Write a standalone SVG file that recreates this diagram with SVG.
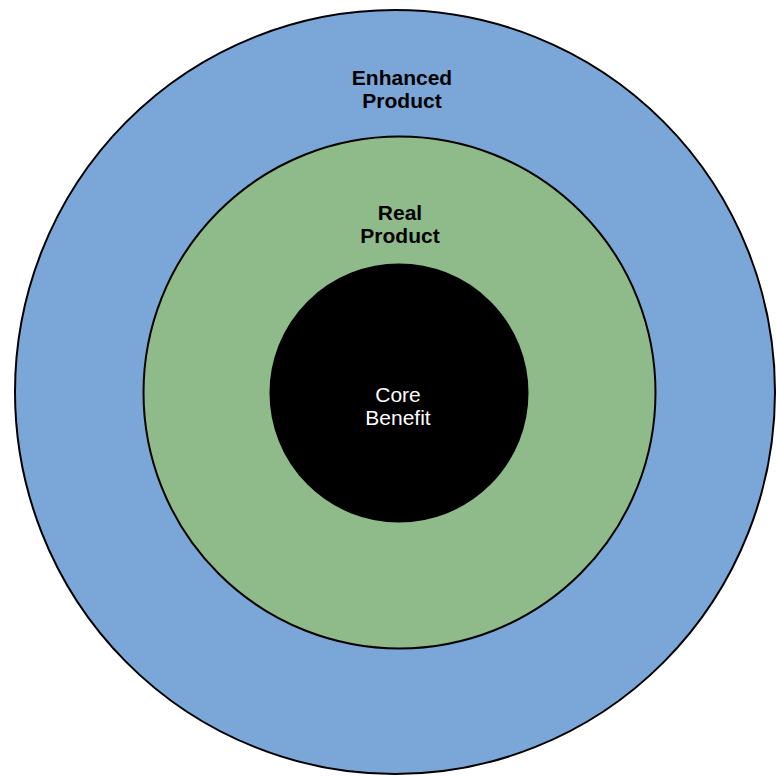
<svg xmlns="http://www.w3.org/2000/svg" width="776" height="776" viewBox="0 0 776 776">
<style>
.ring{stroke:#000;stroke-width:2}
.lbl{font-family:"Liberation Sans",Arial,sans-serif;font-size:21px;text-anchor:middle}
.b{font-weight:bold;fill:#000}
.w{fill:#fff}
</style>
<rect width="776" height="776" fill="#fff"/>
<g id="enhanced">
<ellipse class="ring" cx="395" cy="392" rx="380" ry="382" fill="#7BA7D8"/>
<text class="lbl b" x="402" y="85">Enhanced</text>
<text class="lbl b" x="402" y="108">Product</text>
</g>
<g id="real">
<circle class="ring" cx="399.5" cy="392.5" r="256" fill="#8FBB8A"/>
<text class="lbl b" x="400" y="220">Real</text>
<text class="lbl b" x="400" y="243">Product</text>
</g>
<g id="core">
<circle class="ring" cx="399" cy="393" r="128.5" fill="#000"/>
<text class="lbl w" x="398" y="402">Core</text>
<text class="lbl w" x="398" y="425">Benefit</text>
</g>
<g id="connectors"/>
</svg>
